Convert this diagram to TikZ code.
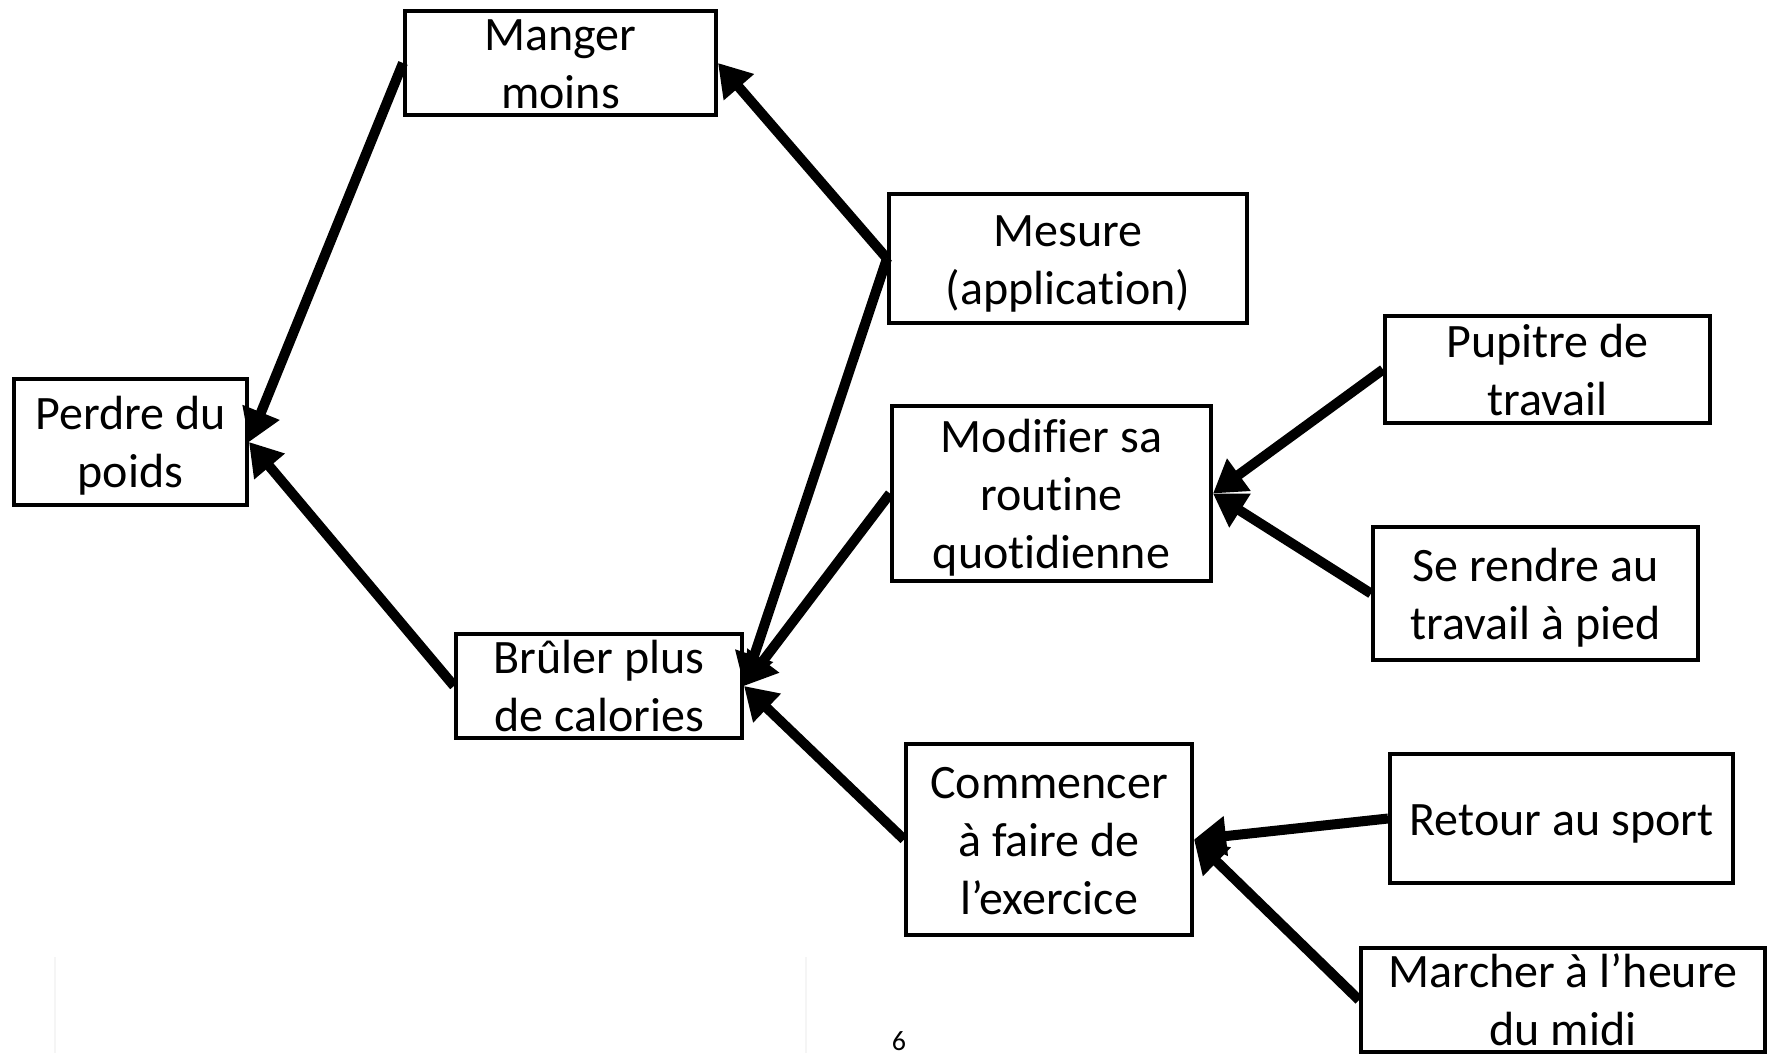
\documentclass[tikz,border=0pt]{standalone}
\usepackage{fontspec}
\setmainfont{Carlito}[Ligatures={NoCommon,NoContextual},Contextuals={NoAlternate}]
\usetikzlibrary{arrows.meta}
\newcommand\firstst{\rule{0pt}{45pt}}
\newcommand\lastst{\rule[-12pt]{0pt}{0pt}}
\tikzset{
  box/.style={draw, line width=4pt, inner xsep=0pt, inner ysep=-20pt, align=center, fill=white,
    font=\fontsize{48}{58}\selectfont},
  arr/.style={line width=10pt, -{Triangle[length=32pt,width=38pt]}}
}
\begin{document}
\begin{tikzpicture}[x=1pt,y=-1pt]
\useasboundingbox (0,0) rectangle (1771,1053);
% faint remnants
\draw[black!4, line width=1.5pt] (55,957) -- (55,1053);
\draw[black!4, line width=1.5pt] (806,957) -- (806,1053);
% nodes
\node[box, minimum width=233pt, minimum height=126pt] (perdre) at (130.5,442) {\firstst Perdre du\\poids\lastst};
\node[box, minimum width=311pt, minimum height=104pt] (manger) at (560.5,63) {\firstst Manger\\moins\lastst};
\node[box, minimum width=358pt, minimum height=129pt] (mesure) at (1068,258.5) {\firstst Mesure\\(application)\lastst};
\node[box, minimum width=325pt, minimum height=107pt] (pupitre) at (1547.5,369.5) {\firstst Pupitre de\\travail\lastst};
\node[box, minimum width=319pt, minimum height=175pt] (modifier) at (1051.5,493.5) {\firstst Modifier sa\\routine\\quotidienne\lastst};
\node[box, minimum width=325pt, minimum height=133pt] (serendre) at (1535.5,593.5) {\firstst Se rendre au\\travail à pied\lastst};
\node[box, minimum width=286pt, minimum height=104pt] (bruler) at (599,686) {\firstst Brûler plus\\de calories\lastst};
\node[box, minimum width=286pt, minimum height=191pt] (commencer) at (1049,839.5) {\firstst Commencer\\à faire de\\l’exercice\lastst};
\node[box, minimum width=343pt, minimum height=129pt] (retour) at (1561.5,818.5) {\firstst Retour au sport\lastst};
\node[box, minimum width=404pt, minimum height=104pt] (marcher) at (1563,1000) {\firstst Marcher à l’heure\\du midi\lastst};
\node[anchor=base, inner sep=0pt, font=\fontsize{28}{32}\selectfont] (page) at (899,1050) {6};
% connectors
\draw[arr] (manger.west) -- (perdre.east);
\draw[arr] (bruler.west) -- (perdre.east);
\draw[arr] (mesure.west) -- (manger.east);
\draw[arr] (mesure.west) -- (bruler.east);
\draw[arr] (modifier.west) -- (bruler.east);
\draw[arr] (commencer.west) -- (bruler.east);
\draw[arr] (pupitre.west) -- (modifier.east);
\draw[arr] (serendre.west) -- (modifier.east);
\draw[arr] (retour.west) -- (commencer.east);
\draw[arr] (marcher.west) -- (commencer.east);
\end{tikzpicture}
\end{document}
